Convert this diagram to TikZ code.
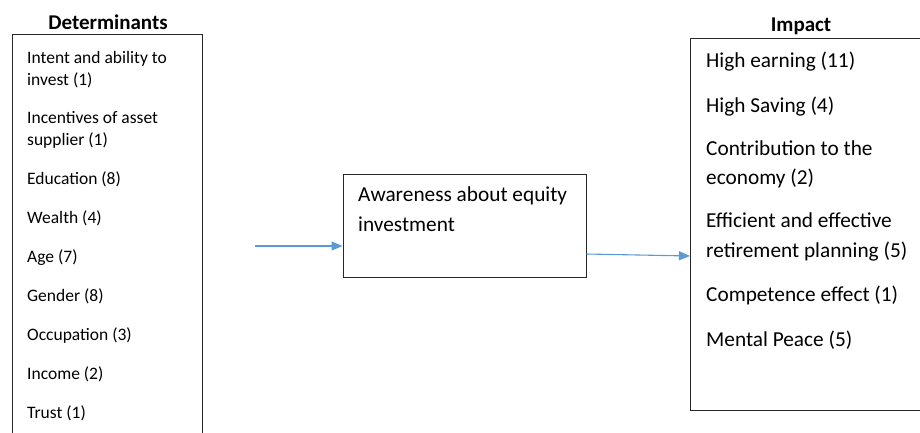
\documentclass[tikz,border=0pt]{standalone}
\usepackage{fontspec}
\setmainfont{Carlito}
\usetikzlibrary{arrows.meta}
\definecolor{flowblue}{RGB}{91,155,213}
\definecolor{frame}{RGB}{40,40,40}
\begin{document}
\begin{tikzpicture}[x=1pt,y=-1pt,
  listbox/.style={draw=frame,line width=1pt},
  heading/.style={font=\fontsize{21}{25}\selectfont\bfseries,inner sep=0pt,anchor=base},
  smallitem/.style={font=\fontsize{17.5}{22}\selectfont,inner sep=0pt,anchor=base west},
  bigitem/.style={font=\fontsize{21.3}{29}\selectfont,inner sep=0pt,anchor=base west},
  flow/.style={draw=flowblue,line width=1.1pt,-{Triangle[length=11pt,width=9pt]}}]
\useasboundingbox (0,0) rectangle (920,432);
\clip (0,0) rectangle (920,432);

% Determinants column
\node[heading] (dtitle) at (108,29.5) {Determinants};
\draw[listbox] (12,34) rectangle (202,445);
\node[smallitem] (d1a) at (27,63) {Intent and ability to};
\node[smallitem] (d1b) at (27,85) {invest (1)};
\node[smallitem] (d2a) at (27,123) {Incentives of asset};
\node[smallitem] (d2b) at (27,145) {supplier (1)};
\node[smallitem] (d3) at (27,184) {Education (8)};
\node[smallitem] (d4) at (27,223) {Wealth (4)};
\node[smallitem] (d5) at (27,262) {Age (7)};
\node[smallitem] (d6) at (27,301) {Gender (8)};
\node[smallitem] (d7) at (27,340) {Occupation (3)};
\node[smallitem] (d8) at (27,379) {Income (2)};
\node[smallitem] (d9) at (27,418) {Trust (1)};

% Central box
\node[listbox,minimum width=243pt,minimum height=103.5pt,inner sep=0pt] (mid) at (464.5,226) {};
\node[bigitem] (m1) at (358,201.5) {Awareness about equity};
\node[bigitem] (m2) at (358,231.5) {investment};

% Impact column
\node[heading] (ititle) at (801,31.5) {Impact};
\draw[listbox] (690,38.5) rectangle (930,410.5);
\coordinate (impw) at (690,256);
\node[bigitem] (i1) at (706,67) {High earning (11)};
\node[bigitem] (i2) at (706,112) {High Saving (4)};
\node[bigitem] (i3a) at (706,155) {Contribution to the};
\node[bigitem] (i3b) at (706,184.5) {economy (2)};
\node[bigitem] (i4a) at (706,227) {Efficient and effective};
\node[bigitem] (i4b) at (706,257) {retirement planning (5)};
\node[bigitem] (i5) at (706,301) {Competence effect (1)};
\node[bigitem] (i6) at (706,346) {Mental Peace (5)};

% Connectors
\coordinate (src) at (255,246);
\draw[flow] (src) -- (src -| mid.west);
\draw[flow] (mid.east |- 0,254) -- (impw);
\end{tikzpicture}
\end{document}
